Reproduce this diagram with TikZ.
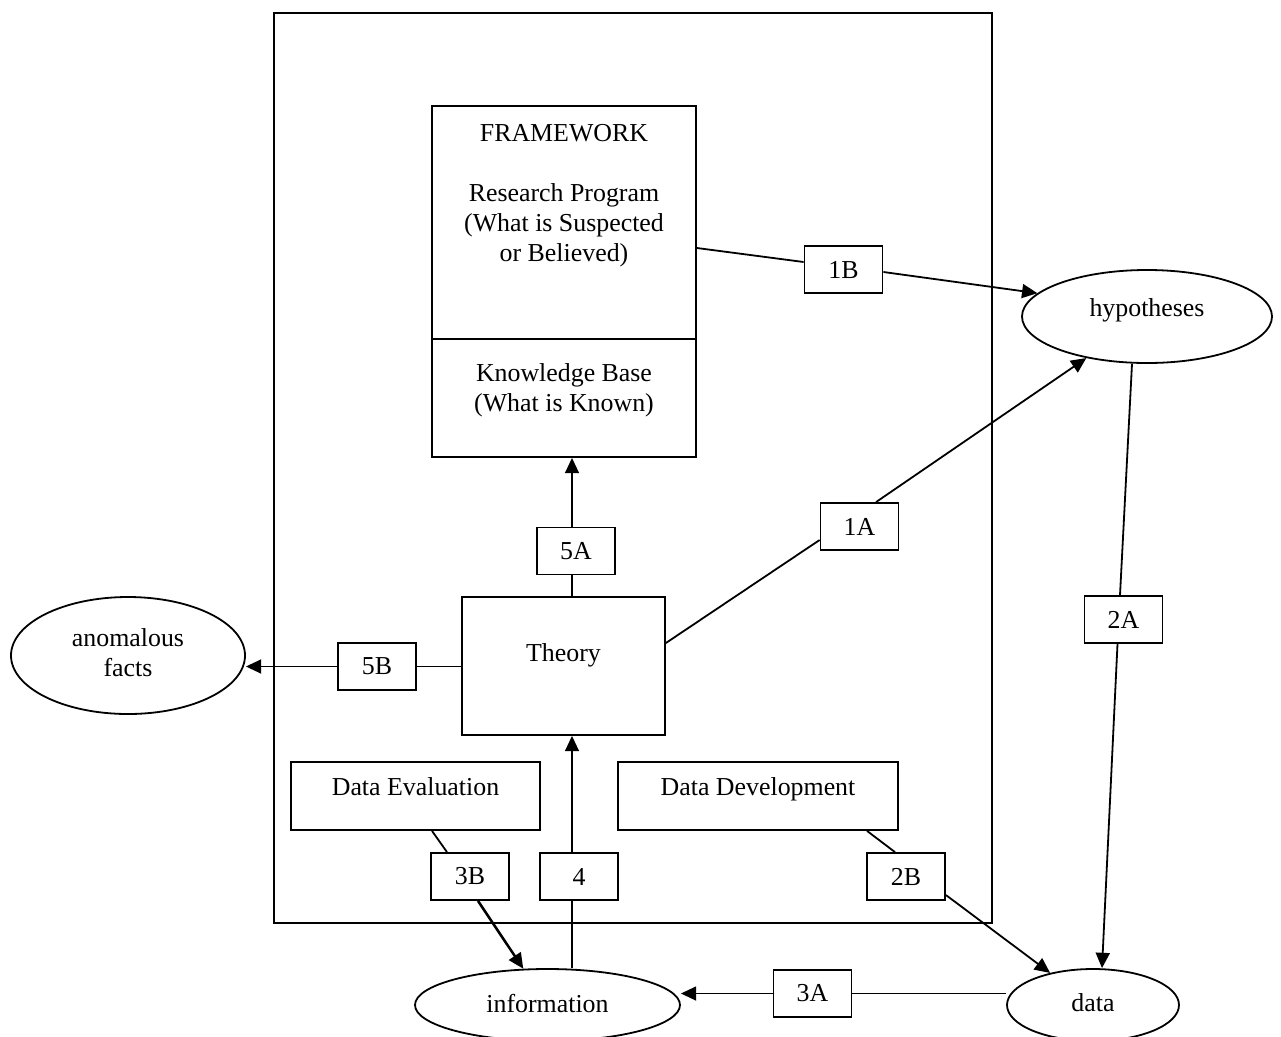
\documentclass[tikz,border=0pt]{standalone}
\usepackage{fontspec}
\setmainfont{Liberation Serif}
\usetikzlibrary{arrows.meta,calc,shapes.geometric}
\begin{document}
\begin{tikzpicture}[x=0.75pt,y=-0.75pt,
  every node/.style={font=\fontsize{19.4pt}{22.5pt}\selectfont},
  ln/.style={line width=1.35pt},
  arr/.style={ln,-{Triangle[length=11.5pt,width=10.5pt]}},
  box/.style={draw,line width=1.35pt,inner sep=0pt,align=center},
  lbl/.style={box,minimum width=58.5pt,minimum height=35.25pt},
  ell/.style={draw,ellipse,line width=1.35pt,inner sep=0pt,align=center}]
\useasboundingbox (0,0) rectangle (1281,1036);
% containers and boxes
\node[box,minimum width=538.5pt,minimum height=682.5pt] (outer) at (633,468) {};
\node[box,minimum width=198pt,minimum height=174.75pt,text depth=44.25pt] (fwtop) at (564,222.5)
  {FRAMEWORK\\[22.5pt]Research Program\\(What is Suspected\\or Believed)};
\node[box,minimum width=198pt,minimum height=88.5pt,text depth=15pt] (fwbot) at (564,398)
  {Knowledge Base\\(What is Known)};
\node[box,minimum width=152.25pt,minimum height=103.5pt,text depth=19.5pt] (theory) at (563.5,666) {Theory};
\node[box,minimum width=186.75pt,minimum height=51pt,text depth=13.5pt] (deval) at (415.5,796) {Data Evaluation};
\node[box,minimum width=210pt,minimum height=51pt,text depth=13.5pt] (ddev) at (758,796) {Data Development};
% ellipses
\node[ell,minimum width=175.5pt,minimum height=87.75pt,text depth=4.5pt] (anom) at (128,655.5) {anomalous\\facts};
\node[ell,minimum width=187.5pt,minimum height=69.75pt,text depth=12.8pt] (hyp) at (1147,316.5) {hypotheses};
\node[ell,minimum width=198.75pt,minimum height=54pt,text depth=3pt] (info) at (547.5,1005) {information};
\node[ell,minimum width=129pt,minimum height=54pt,text depth=3pt] (data) at (1093,1005) {data};
% label boxes
\node[lbl] (l1B) at (843.5,269.5) {1B};
\node[lbl] (l1A) at (859.5,526.5) {1A};
\node[lbl] (l2A) at (1123.5,619.5) {2A};
\node[lbl] (l5A) at (576,551) {5A};
\node[lbl] (l5B) at (377,666.5) {5B};
\node[lbl] (l3B) at (470,876.5) {3B};
\node[lbl] (l4) at (579,876.5) {4};
\node[lbl] (l2B) at (906,876.5) {2B};
\node[lbl] (l3A) at (812.5,993.5) {3A};
\coordinate (col) at (572,0);
% connectors
\draw[ln] ($(fwtop.east)+(0,25.5)$) -- ($(l1B.west)+(0,-7.5)$);
\draw[arr] ($(l1B.east)+(0,2.5)$) -- (hyp.168);
\draw[ln] ($(theory.east)+(0,-23)$) -- ($(l1A.west)+(0,13.5)$);
\draw[arr] ($(l1A.north)+(16.5,0)$) -- (hyp);
\draw[ln] ($(hyp.south)+(-15,0)$) -- ($(l2A.north)+(-3.5,0)$);
\draw[arr] ($(l2A.south)+(-6,0)$) -- ($(data.north)+(9,0)$);
\draw[ln] (theory.west |- l5B.east) -- (l5B.east);
\draw[arr] (l5B.west) -- (l5B.west -| anom.east);
\draw[ln] (theory.north -| col) -- (l5A.south -| col);
\draw[arr] (l5A.north -| col) -- (fwbot.south -| col);
\draw[ln] (info.north -| col) -- (l4.south -| col);
\draw[arr] (l4.north -| col) -- (theory.south -| col);
\draw[ln] ($(deval.south)+(16.5,0)$) -- ($(l3B.north)+(-23,0)$);
\draw[arr,line width=1.9pt] ($(l3B.south)+(8,0)$) -- (info);
\draw[ln] ($(ddev.south)+(109,0)$) -- ($(l2B.north)+(-11,0)$);
\draw[arr] ($(l2B.east)+(0,18.5)$) -- (data);
\draw[ln] (data.west |- l3A.east) -- (l3A.east);
\draw[arr] (l3A.west) -- (l3A.west -| info.east);
\end{tikzpicture}
\end{document}
